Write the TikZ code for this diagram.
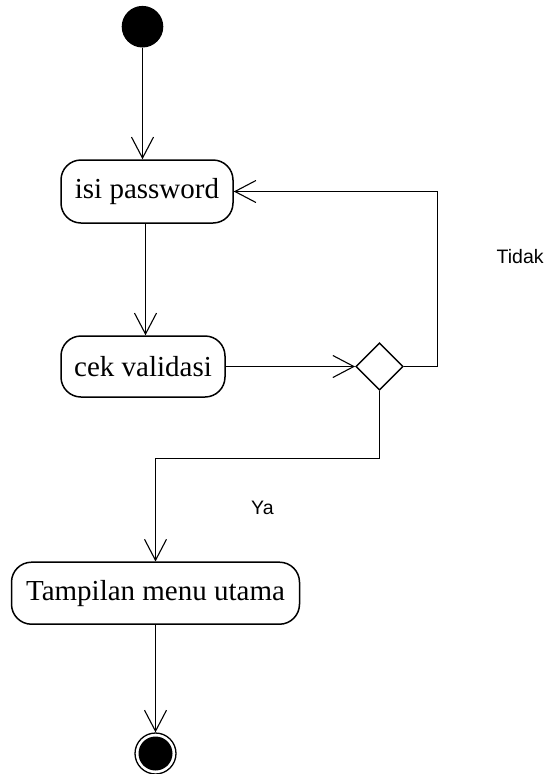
\documentclass[tikz,border=0pt]{standalone}
\usepackage{fontspec}
\setmainfont{Liberation Serif}
\newfontfamily\labelsans{Liberation Sans}
\usetikzlibrary{arrows.meta,shapes.geometric}

\tikzset{
  action/.style={draw, line width=1.5pt, rounded corners=20pt, inner sep=0pt,
    font=\fontsize{29}{34}\selectfont},
  flow/.style={draw, line width=1.1pt, -{Straight Barb[length=21pt,width=22pt,line width=1.1pt]}},
  guard/.style={font=\labelsans\fontsize{19.5}{22}\selectfont, inner sep=0pt},
  decision/.style={diamond, draw, line width=1.5pt, aspect=1, inner sep=0pt, minimum size=47.4pt},
}

\begin{document}
\begin{tikzpicture}[x=1pt,y=-1pt]
  \useasboundingbox (0,0) rectangle (546,774);

  % initial and final states
  \node[circle, fill=black, minimum size=41.6pt, inner sep=0pt] (start) at (142.5,26.7) {};
  \node[circle, draw, line width=1.3pt, minimum size=41pt, inner sep=0pt] (end) at (155.5,753.5) {};
  \node[circle, fill=black, minimum size=34pt, inner sep=0pt] (endcore) at (155.5,753.5) {};

  % actions
  \node[action, minimum width=172pt, minimum height=63pt] (pw) at (147,191.5) {isi password};
  \node[action, minimum width=164pt, minimum height=61pt] (cek) at (143,366.5) {cek validasi};
  \node[action, minimum width=288pt, minimum height=62pt] (menu) at (155.5,593.2) {Tampilan menu utama};

  % decision
  \node[decision] (dec) at (379.5,366.5) {};

  % guards
  \node[guard, anchor=base west] (tidak) at (496.5,263.3) {Tidak};
  \node[guard, anchor=base west] (ya) at (251,514) {Ya};

  % transitions
  \draw[flow] (start.south) -- (start.south |- pw.north);
  \draw[flow] ([xshift=-1.5pt]pw.south) -- ([xshift=-1.5pt]pw.south |- cek.north);
  \draw[flow] (cek.east) -- (dec.west);
  \draw[flow] (dec.east) -- ++(33.2,0) |- (pw.east);
  \draw[flow] (dec.south) -- ++(0,67.3) -| (menu.north);
  \draw[flow] (menu.south) -- (end.north);
\end{tikzpicture}
\end{document}
